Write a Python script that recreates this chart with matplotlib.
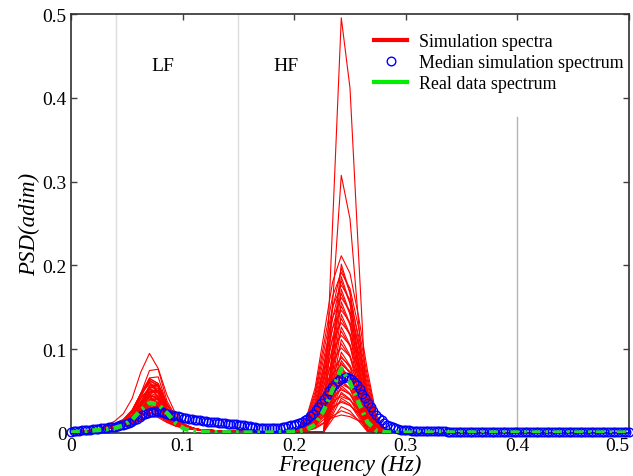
import numpy as np
import matplotlib
matplotlib.use("Agg")
import matplotlib.pyplot as plt
from matplotlib.lines import Line2D

plt.rcParams["font.family"] = ["Liberation Serif", "DejaVu Serif"]

# ---------------------------------------------------------------- data
# frequency bins of the simulated / real spectra (Hz)
freq_step = 1 / 128
n_bins = 65
freq_sim = np.arange(n_bins) * freq_step

# common low-level floor of every simulated spectrum
sim_floor = [
    0.0008, 0.0018, 0.0028, 0.0038, 0.0045, 0.0050, 0.0050, 0.0050, 0.0050, 0.0050,
    0.0050, 0.0050, 0.0048, 0.0045, 0.0040, 0.0035, 0.0030, 0.0028, 0.0025, 0.0022,
    0.0020, 0.0018, 0.0016, 0.0015, 0.0015, 0.0015, 0.0015, 0.0015, 0.0015, 0.0015,
    0.0015, 0.0015, 0.0015, 0.0015, 0.0012, 0.0010, 0.0008, 0.0007, 0.0006, 0.0006,
    0.0005, 0.0005, 0.0005, 0.0005, 0.0005, 0.0005, 0.0005, 0.0005, 0.0005, 0.0005,
    0.0005, 0.0005, 0.0005, 0.0005, 0.0005, 0.0005, 0.0005, 0.0005, 0.0005, 0.0005,
    0.0005, 0.0005, 0.0005, 0.0005, 0.0005,
]

# LF band profiles (bins 4..14) and HF band profiles (bins 26..36), peak = 1
lf_first_bin = 4
lf_profiles = [
    [0.03, 0.06, 0.12, 0.21, 0.59, 0.98, 1.00, 0.47, 0.21, 0.08, 0.03],
    [0.05, 0.08, 0.15, 0.35, 0.70, 1.00, 0.90, 0.50, 0.22, 0.08, 0.03],
    [0.05, 0.10, 0.20, 0.40, 0.75, 1.00, 0.80, 0.45, 0.20, 0.07, 0.02],
]
hf_first_bin = 26
hf_profiles = [
    [0.00, 0.00, 0.00, 0.00, 0.50, 1.00, 0.83, 0.42, 0.02, 0.00, 0.00],
    [0.00, 0.04, 0.15, 0.40, 0.75, 1.00, 0.85, 0.55, 0.25, 0.06, 0.00],
    [0.02, 0.08, 0.25, 0.55, 0.85, 1.00, 0.90, 0.65, 0.35, 0.10, 0.02],
]

# peak power of each simulated spectrum in the HF and LF bands
hf_peaks = [
    0.494, 0.306, 0.210, 0.200, 0.195, 0.190, 0.185, 0.180, 0.175, 0.170,
    0.165, 0.160, 0.155, 0.150, 0.145, 0.140, 0.135, 0.130, 0.125, 0.120,
    0.115, 0.110, 0.105, 0.100, 0.095, 0.090, 0.088, 0.085, 0.082, 0.080,
    0.077, 0.075, 0.072, 0.070, 0.067, 0.065, 0.062, 0.060, 0.057, 0.055,
    0.052, 0.050, 0.047, 0.045, 0.042, 0.040, 0.037, 0.035, 0.030, 0.025,
    0.020,
]
lf_peaks = [
    0.030, 0.045, 0.090, 0.052, 0.060, 0.038, 0.071, 0.041, 0.055, 0.062,
    0.028, 0.048, 0.035, 0.058, 0.025, 0.050, 0.060, 0.033, 0.044, 0.022,
    0.056, 0.039, 0.047, 0.030, 0.053, 0.020, 0.042, 0.036, 0.057, 0.027,
    0.046, 0.032, 0.049, 0.024, 0.040, 0.054, 0.018, 0.043, 0.034, 0.051,
    0.026, 0.037, 0.045, 0.015, 0.031, 0.048, 0.029, 0.039, 0.023, 0.035,
    0.019,
]
profile_choice = [0, 0] + [i % 3 for i in range(2, len(hf_peaks))]

# real data spectrum on the same bins
real_psd = [
    0.0005, 0.0015, 0.0025, 0.0035, 0.0045, 0.0060, 0.0090, 0.0160, 0.0270, 0.0360,
    0.0340, 0.0240, 0.0120, 0.0050, 0.0025, 0.0015, 0.0010, 0.0010, 0.0008, 0.0008,
    0.0006, 0.0006, 0.0005, 0.0006, 0.0008, 0.0012, 0.0020, 0.0040, 0.0100, 0.0270,
    0.0520, 0.0770, 0.0600, 0.0360, 0.0130, 0.0030, 0.0010, 0.0005, 0.0005, 0.0005,
    0.0005, 0.0005, 0.0005, 0.0005, 0.0005, 0.0005, 0.0005, 0.0005, 0.0005, 0.0005,
    0.0005, 0.0005, 0.0005, 0.0005, 0.0005, 0.0005, 0.0005, 0.0005, 0.0005, 0.0005,
    0.0005, 0.0005, 0.0005, 0.0005, 0.0005,
]

# median of the simulated spectra on a fine grid
median_psd = [
    0.0015, 0.0019, 0.0023, 0.0026, 0.0030, 0.0034, 0.0038, 0.0041, 0.0045, 0.0049,
    0.0053, 0.0056, 0.0060, 0.0064, 0.0068, 0.0071, 0.0075, 0.0082, 0.0090, 0.0097,
    0.0105, 0.0117, 0.0130, 0.0150, 0.0170, 0.0190, 0.0210, 0.0226, 0.0240, 0.0248,
    0.0255, 0.0257, 0.0255, 0.0248, 0.0240, 0.0230, 0.0220, 0.0212, 0.0205, 0.0197,
    0.0190, 0.0184, 0.0178, 0.0171, 0.0165, 0.0160, 0.0155, 0.0150, 0.0145, 0.0141,
    0.0137, 0.0134, 0.0130, 0.0126, 0.0122, 0.0119, 0.0115, 0.0112, 0.0110, 0.0107,
    0.0105, 0.0100, 0.0095, 0.0090, 0.0085, 0.0080, 0.0075, 0.0070, 0.0065, 0.0062,
    0.0060, 0.0057, 0.0055, 0.0057, 0.0060, 0.0062, 0.0065, 0.0071, 0.0077, 0.0084,
    0.0090, 0.0100, 0.0110, 0.0120, 0.0130, 0.0150, 0.0170, 0.0200, 0.0230, 0.0270,
    0.0310, 0.0355, 0.0400, 0.0450, 0.0500, 0.0545, 0.0590, 0.0620, 0.0650, 0.0660,
    0.0670, 0.0655, 0.0640, 0.0605, 0.0570, 0.0520, 0.0470, 0.0415, 0.0360, 0.0310,
    0.0260, 0.0220, 0.0180, 0.0150, 0.0120, 0.0100, 0.0080, 0.0068, 0.0055, 0.0048,
    0.0040, 0.0037, 0.0034, 0.0031, 0.0028, 0.0026, 0.0025, 0.0023, 0.0022, 0.0021,
    0.0021, 0.0020, 0.0020, 0.0019, 0.0019, 0.0018, 0.0018, 0.0017, 0.0017, 0.0017,
    0.0017, 0.0017, 0.0017, 0.0017, 0.0017, 0.0017, 0.0017, 0.0017, 0.0017, 0.0017,
    0.0017, 0.0017, 0.0017, 0.0017, 0.0017, 0.0017, 0.0017, 0.0017, 0.0017, 0.0017,
    0.0017, 0.0016, 0.0016, 0.0016, 0.0016, 0.0016, 0.0016, 0.0016, 0.0016, 0.0016,
    0.0016, 0.0016, 0.0016, 0.0016, 0.0016, 0.0016, 0.0016, 0.0016, 0.0016, 0.0016,
    0.0016, 0.0016, 0.0016, 0.0016, 0.0016, 0.0016, 0.0016, 0.0016, 0.0016, 0.0016,
    0.0016, 0.0016, 0.0016, 0.0016, 0.0016, 0.0016, 0.0016, 0.0016, 0.0016, 0.0016,
    0.0016, 0.0016, 0.0016, 0.0016,
]
freq_med = np.linspace(0, 0.5, len(median_psd))

# band limits (Hz)
band_edges = [0.04, 0.15]
hf_upper = 0.40
hf_upper_top = 0.377
band_labels = ["LF", "HF"]
band_label_x = [0.0825, 0.1925]
band_label_y = 0.438

x_ticks = [0, 0.1, 0.2, 0.3, 0.4, 0.5]
x_tick_labels = ["0", "0.1", "0.2", "0.3", "0.4", "0.5"]
y_ticks = [0, 0.1, 0.2, 0.3, 0.4, 0.5]
y_tick_labels = ["0", "0.1", "0.2", "0.3", "0.4", "0.5"]

# ---------------------------------------------------------------- figure
fig = plt.figure(figsize=(6.33, 4.77), dpi=100)
ax = fig.add_axes([71 / 633, 43 / 477, 558 / 633, 419 / 477])

for hf, lf, p in zip(hf_peaks, lf_peaks, profile_choice):
    spec = np.array(sim_floor, dtype=float)
    spec[lf_first_bin:lf_first_bin + 11] += lf * np.array(lf_profiles[p])
    spec[hf_first_bin:hf_first_bin + 11] += hf * np.array(hf_profiles[p])
    ax.plot(freq_sim, spec, color="#ff0000", lw=0.8, zorder=2)

for xe in band_edges:
    ax.axvline(xe, color="#dcdcdc", lw=1.0, zorder=1)
ax.plot([hf_upper, hf_upper], [0, hf_upper_top], color="#b4b4b4", lw=1.0, zorder=1)

ax.plot(freq_med, median_psd, linestyle="none", marker="o", markersize=6.2,
        markerfacecolor="none", markeredgecolor="#0000ff", markeredgewidth=1.0,
        zorder=3, clip_on=False)
ax.plot(freq_sim, real_psd, color="#22dd22", lw=3.2, linestyle=(0, (2.0, 1.1, 0.6, 1.1)),
        zorder=4)

for lab, lx in zip(band_labels, band_label_x):
    ax.text(lx, band_label_y, lab, fontsize=14, ha="center", va="center")

ax.set_xlim(0, 0.5)
ax.set_ylim(0, 0.5)
ax.set_xticks(x_ticks)
ax.set_xticklabels(x_tick_labels)
ax.set_yticks(y_ticks)
ax.set_yticklabels(y_tick_labels)
ax.tick_params(direction="in", length=4, width=1.0, color="#404040",
               labelsize=14, pad=3, top=True, right=True)
# keep the last frequency label inside the figure
ax.get_xticklabels()[-1].set_horizontalalignment("right")
for sp in ax.spines.values():
    sp.set_color("#303030")
    sp.set_linewidth(1.2)

ax.set_xlabel("Frequency (Hz)", fontsize=16.5, fontstyle="italic", labelpad=0)
ax.set_ylabel("PSD(adim)", fontsize=16.5, fontstyle="italic", labelpad=2)

handles = [
    Line2D([], [], color="#ff0000", lw=3),
    Line2D([], [], linestyle="none", marker="o", markersize=6.2,
           markerfacecolor="none", markeredgecolor="#0000ff", markeredgewidth=1.0),
    Line2D([], [], color="#00ee00", lw=3),
]
labels = ["Simulation spectra", "Median simulation spectrum", "Real data spectrum"]
fig.legend(handles, labels, loc="upper left", bbox_to_anchor=(374 / 633, 1 - 34 / 477),
           frameon=False, fontsize=12.9, borderpad=0, borderaxespad=0,
           handlelength=1.85, handletextpad=0.67, labelspacing=0.22)

fig.savefig("out.png", dpi=100)
